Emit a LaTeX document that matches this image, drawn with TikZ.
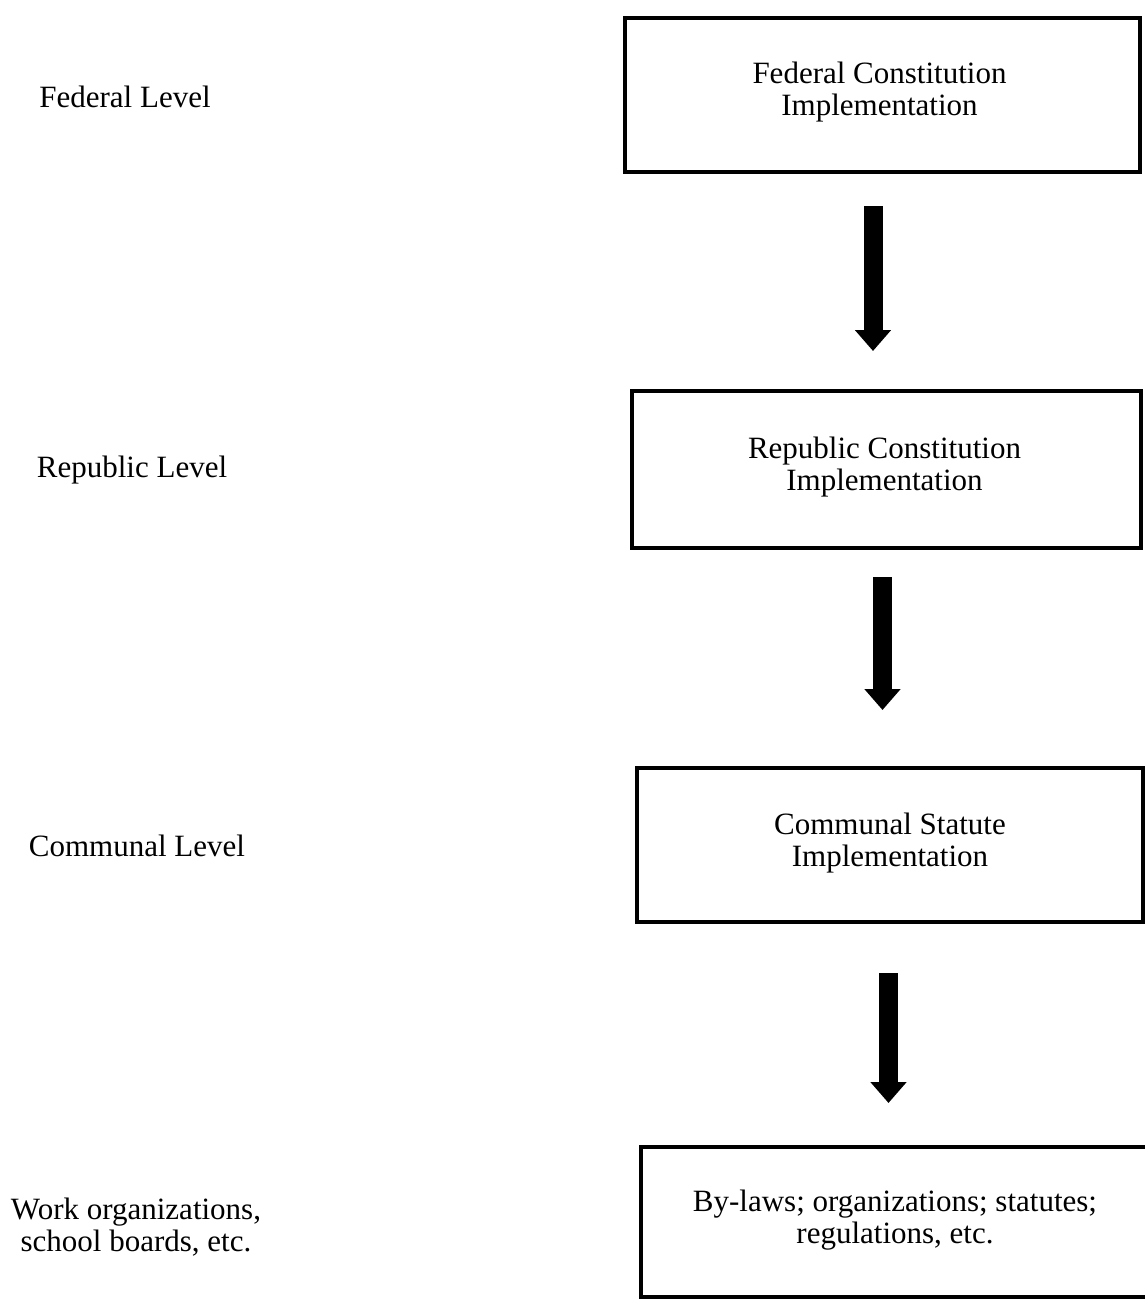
\documentclass[tikz,border=0pt]{standalone}
\usepackage{fontspec}
\setmainfont{Liberation Serif}
\usetikzlibrary{arrows.meta}
\begin{document}
\begin{tikzpicture}[x=1pt,y=-1pt,
  levelbox/.style={draw, line width=4pt, inner sep=0pt},
  boxtext/.style={align=center, font=\fontsize{31}{32}\selectfont, inner sep=0pt},
  leveltext/.style={align=center, font=\fontsize{31}{32}\selectfont, inner sep=0pt},
  bigarrow/.style={line width=19pt, -{Triangle[width=35pt,length=21pt]}}]
\useasboundingbox (0,0) rectangle (1144,1299);

% level labels on the left
\node[leveltext] (l1) at (125,97) {Federal Level};
\node[leveltext] (l2) at (132,470) {Republic Level};
\node[leveltext] (l3) at (137,846) {Communal Level};
\node[leveltext] (l4) at (136,1227) {Work organizations,\\school boards, etc.};

% implementation boxes
\node[levelbox, minimum width=515pt, minimum height=154pt] (b1) at (882.5,95) {};
\node[levelbox, minimum width=509pt, minimum height=157pt] (b2) at (886.5,469.5) {};
\node[levelbox, minimum width=506pt, minimum height=154pt] (b3) at (890,845) {};
\node[levelbox, minimum width=530pt, minimum height=150pt] (b4) at (906,1222) {};

\node[boxtext, yshift=2.5pt, xshift=-3pt] (t1) at (b1.center) {Federal Constitution\\Implementation};
\node[boxtext, yshift=2pt, xshift=-2pt] (t2) at (b2.center) {Republic Constitution\\Implementation};
\node[boxtext, yshift=2pt] (t3) at (b3.center) {Communal Statute\\Implementation};
\node[boxtext, yshift=2pt, xshift=-11pt] (t4) at (b4.center) {By-laws; organizations; statutes;\\regulations, etc.};

% downward arrows between the levels
\draw[bigarrow, shorten <=32pt, shorten >=38pt]
  ([xshift=-9.5pt]b1.south) -- ([xshift=-9.5pt]b1.south |- b2.north);
\draw[bigarrow, shorten <=27pt, shorten >=56pt]
  ([xshift=-4pt]b2.south) -- ([xshift=-4pt]b2.south |- b3.north);
\draw[bigarrow, shorten <=49pt, shorten >=42pt]
  ([xshift=-1.5pt]b3.south) -- ([xshift=-1.5pt]b3.south |- b4.north);
\end{tikzpicture}
\end{document}
